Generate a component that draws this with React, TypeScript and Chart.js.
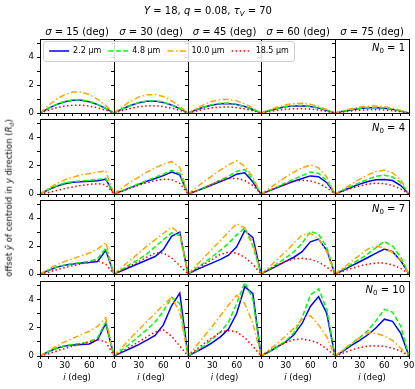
import React, { useEffect, useRef } from "react";
import { Chart, registerables } from "chart.js";

Chart.register(...registerables);

// ---------- data ----------
const inclination = [0, 10, 20, 30, 40, 50, 60, 70, 80, 90];
const sigmaValues = [15, 30, 45, 60, 75];
const n0Values = [1, 4, 7, 10];
const wavelengthLabels = ["2.2 μm", "4.8 μm", "10.0 μm", "18.5 μm"];
const xTickLabels = [0, 30, 60];
const xTickLabelsLast = [0, 30, 60, 90];
const yTickLabels = [0, 2, 4];

// N0 = 1 ; each inner array: sigma = 15, 30, 45, 60, 75
const n1_w22 = [
  [0, 0.33, 0.6, 0.81, 0.92, 0.92, 0.81, 0.6, 0.33, 0],
  [0, 0.29, 0.54, 0.73, 0.84, 0.85, 0.76, 0.57, 0.31, 0],
  [0, 0.23, 0.43, 0.58, 0.67, 0.68, 0.61, 0.46, 0.25, 0],
  [0, 0.17, 0.32, 0.44, 0.51, 0.52, 0.47, 0.35, 0.19, 0],
  [0, 0.13, 0.24, 0.32, 0.37, 0.38, 0.34, 0.26, 0.14, 0],
];
const n1_w48 = [
  [0, 0.34, 0.62, 0.83, 0.94, 0.94, 0.83, 0.62, 0.34, 0],
  [0, 0.3, 0.55, 0.75, 0.86, 0.87, 0.78, 0.58, 0.32, 0],
  [0, 0.24, 0.44, 0.6, 0.69, 0.7, 0.62, 0.47, 0.26, 0],
  [0, 0.18, 0.33, 0.46, 0.53, 0.54, 0.48, 0.36, 0.2, 0],
  [0, 0.13, 0.25, 0.34, 0.39, 0.4, 0.35, 0.27, 0.15, 0],
];
const n1_w100 = [
  [0, 0.53, 0.98, 1.32, 1.5, 1.5, 1.32, 0.98, 0.53, 0],
  [0, 0.45, 0.84, 1.14, 1.3, 1.32, 1.18, 0.88, 0.48, 0],
  [0, 0.33, 0.62, 0.84, 0.96, 0.97, 0.87, 0.65, 0.35, 0],
  [0, 0.23, 0.43, 0.59, 0.68, 0.69, 0.62, 0.46, 0.25, 0],
  [0, 0.17, 0.31, 0.43, 0.49, 0.5, 0.45, 0.34, 0.18, 0],
];
const n1_w185 = [
  [0, 0.2, 0.37, 0.5, 0.56, 0.56, 0.5, 0.37, 0.2, 0],
  [0, 0.17, 0.33, 0.45, 0.51, 0.52, 0.46, 0.35, 0.19, 0],
  [0, 0.14, 0.27, 0.37, 0.42, 0.43, 0.38, 0.29, 0.16, 0],
  [0, 0.1, 0.19, 0.26, 0.3, 0.31, 0.28, 0.21, 0.11, 0],
  [0, 0.08, 0.15, 0.2, 0.23, 0.24, 0.21, 0.16, 0.09, 0],
];

// N0 = 4
const n4_w22 = [
  [0, 0.3, 0.55, 0.73, 0.83, 0.87, 0.9, 0.93, 1.05, 0],
  [0, 0.22, 0.45, 0.68, 0.9, 1.1, 1.3, 1.55, 1.35, 0],
  [0, 0.2, 0.42, 0.65, 0.88, 1.1, 1.4, 1.5, 0.85, 0],
  [0, 0.22, 0.45, 0.68, 0.9, 1.1, 1.28, 1.22, 0.8, 0],
  [0, 0.25, 0.48, 0.7, 0.88, 1.0, 1.02, 0.95, 0.6, 0],
];
const n4_w48 = [
  [0, 0.32, 0.58, 0.77, 0.87, 0.92, 0.97, 1.02, 1.1, 0],
  [0, 0.23, 0.47, 0.72, 0.95, 1.18, 1.4, 1.68, 1.45, 0],
  [0, 0.22, 0.46, 0.72, 0.98, 1.25, 1.6, 1.72, 1.0, 0],
  [0, 0.25, 0.5, 0.78, 1.05, 1.3, 1.55, 1.45, 0.95, 0],
  [0, 0.28, 0.55, 0.8, 1.05, 1.25, 1.33, 1.2, 0.8, 0],
];
const n4_w100 = [
  [0, 0.38, 0.72, 1.0, 1.2, 1.35, 1.45, 1.55, 1.63, 0],
  [0, 0.45, 0.85, 1.2, 1.55, 1.85, 2.1, 2.3, 1.9, 0],
  [0, 0.45, 0.9, 1.3, 1.7, 2.05, 2.35, 1.95, 1.2, 0],
  [0, 0.4, 0.8, 1.2, 1.55, 1.85, 2.05, 1.85, 1.2, 0],
  [0, 0.35, 0.7, 1.05, 1.35, 1.6, 1.68, 1.5, 1.0, 0],
];
const n4_w185 = [
  [0, 0.1, 0.24, 0.38, 0.5, 0.6, 0.68, 0.73, 0.65, 0],
  [0, 0.2, 0.42, 0.62, 0.8, 0.95, 1.05, 1.02, 0.75, 0],
  [0, 0.22, 0.45, 0.7, 0.95, 1.1, 1.1, 0.95, 0.6, 0],
  [0, 0.25, 0.5, 0.72, 0.9, 0.97, 0.92, 0.75, 0.45, 0],
  [0, 0.2, 0.4, 0.57, 0.7, 0.76, 0.73, 0.6, 0.35, 0],
];

// N0 = 7
const n7_w22 = [
  [0, 0.25, 0.48, 0.63, 0.72, 0.78, 0.82, 0.9, 1.7, 0],
  [0, 0.25, 0.5, 0.75, 1.0, 1.25, 1.75, 2.7, 3.0, 0],
  [0, 0.3, 0.55, 0.8, 1.05, 1.35, 1.95, 3.1, 2.6, 0],
  [0, 0.3, 0.6, 0.9, 1.2, 1.6, 2.3, 2.5, 1.7, 0],
  [0, 0.28, 0.58, 0.88, 1.18, 1.5, 1.78, 1.6, 0.95, 0],
];
const n7_w48 = [
  [0, 0.27, 0.5, 0.65, 0.75, 0.82, 0.9, 1.1, 1.85, 0],
  [0, 0.35, 0.7, 1.05, 1.45, 1.95, 2.45, 2.95, 2.75, 0],
  [0, 0.4, 0.8, 1.25, 1.7, 2.2, 2.8, 3.3, 2.0, 0],
  [0, 0.35, 0.75, 1.15, 1.6, 2.2, 3.05, 2.85, 1.9, 0],
  [0, 0.35, 0.7, 1.05, 1.45, 1.9, 2.33, 2.0, 1.2, 0],
];
const n7_w100 = [
  [0, 0.35, 0.65, 0.9, 1.1, 1.3, 1.5, 1.8, 2.25, 0],
  [0, 0.5, 1.0, 1.5, 2.0, 2.45, 2.9, 3.35, 2.9, 0],
  [0, 0.6, 1.2, 1.8, 2.4, 3.0, 3.6, 3.3, 2.2, 0],
  [0, 0.5, 1.05, 1.6, 2.2, 2.8, 2.9, 2.55, 1.6, 0],
  [0, 0.45, 0.9, 1.35, 1.8, 2.0, 1.85, 1.55, 1.0, 0],
];
const n7_w185 = [
  [0, 0.12, 0.3, 0.45, 0.6, 0.72, 0.85, 0.95, 0.7, 0],
  [0, 0.28, 0.58, 0.88, 1.2, 1.5, 1.5, 1.15, 0.6, 0],
  [0, 0.35, 0.7, 1.05, 1.4, 1.57, 1.5, 1.2, 0.7, 0],
  [0, 0.35, 0.65, 0.9, 1.08, 1.12, 1.05, 0.85, 0.5, 0],
  [0, 0.2, 0.4, 0.57, 0.7, 0.78, 0.78, 0.65, 0.4, 0],
];

// N0 = 10
const n10_w22 = [
  [0, 0.3, 0.55, 0.7, 0.78, 0.82, 0.85, 1.15, 2.3, 0],
  [0, 0.27, 0.53, 0.8, 1.12, 1.45, 2.2, 3.55, 4.45, 0],
  [0, 0.3, 0.6, 0.95, 1.35, 1.9, 3.0, 4.9, 4.4, 0],
  [0, 0.3, 0.65, 1.0, 1.5, 2.3, 3.5, 4.2, 3.0, 0],
  [0, 0.35, 0.75, 1.1, 1.5, 2.0, 2.6, 2.45, 1.6, 0],
];
const n10_w48 = [
  [0, 0.3, 0.55, 0.72, 0.82, 0.9, 1.0, 1.3, 2.4, 0],
  [0, 0.45, 0.9, 1.38, 1.86, 2.4, 3.15, 4.15, 3.7, 0],
  [0, 0.35, 0.75, 1.2, 1.7, 2.4, 3.7, 5.2, 4.0, 0],
  [0, 0.3, 0.65, 1.05, 1.65, 2.7, 4.3, 4.75, 3.3, 0],
  [0, 0.4, 0.85, 1.3, 1.8, 2.5, 3.3, 3.1, 2.1, 0],
];
const n10_w100 = [
  [0, 0.35, 0.7, 1.0, 1.25, 1.5, 1.75, 2.1, 2.7, 0],
  [0, 0.62, 1.25, 1.85, 2.45, 3.0, 3.6, 4.15, 3.1, 0],
  [0, 0.7, 1.4, 2.1, 2.85, 3.6, 4.3, 3.7, 2.3, 0],
  [0, 0.45, 0.9, 1.4, 1.95, 2.6, 2.85, 2.2, 1.35, 0],
  [0, 0.45, 0.9, 1.3, 1.65, 1.6, 1.4, 1.1, 0.55, 0],
];
const n10_w185 = [
  [0, 0.15, 0.35, 0.52, 0.7, 0.85, 1.0, 1.15, 1.0, 0],
  [0, 0.32, 0.66, 1.0, 1.35, 1.7, 1.85, 1.4, 0.7, 0],
  [0, 0.45, 0.9, 1.3, 1.7, 1.8, 1.7, 1.3, 0.7, 0],
  [0, 0.35, 0.7, 0.95, 1.15, 1.2, 1.1, 0.9, 0.5, 0],
  [0, 0.2, 0.42, 0.6, 0.7, 0.72, 0.68, 0.55, 0.35, 0],
];

const allRows = [
  [n1_w22, n1_w48, n1_w100, n1_w185],
  [n4_w22, n4_w48, n4_w100, n4_w185],
  [n7_w22, n7_w48, n7_w100, n7_w185],
  [n10_w22, n10_w48, n10_w100, n10_w185],
];

// ---------- styling / layout ----------
const FONT = '"DejaVu Sans", sans-serif';
const lineColors = ["#0000ff", "#00ff00", "#ffa500", "#ff0000"];
const lineDashes: number[][] = [[], [5, 2.5], [6, 2.5, 1.5, 2.5], [1.5, 2.5]];
const colEdges = [40, 114, 188, 261, 335, 409];
const rowTops = [39, 119, 200, 281];
const rowBottoms = [113, 194, 274, 356];
const Y_MAX = 5.3;

const framePlugin = {
  id: "frame",
  afterDatasetsDraw(chart: any) {
    const { ctx, chartArea } = chart;
    const { left, top, right, bottom } = chartArea;
    ctx.save();
    ctx.strokeStyle = "#000";
    ctx.lineWidth = 1;
    ctx.strokeRect(left + 0.5, top + 0.5, right - left, bottom - top);
    ctx.restore();
  },
};

function Panel({ r, c }: { r: number; c: number }) {
  const ref = useRef<HTMLCanvasElement>(null);
  const padL = c === 0 ? 40 : 4;
  const padB = r === 3 ? 16 : 4;
  const padR = c === 4 ? 8 : 1;
  const W = colEdges[c + 1] - colEdges[c];
  const H = rowBottoms[r] - rowTops[r];
  const cw = padL + W + padR;
  const ch = 1 + H + padB;
  useEffect(() => {
    const series = allRows[r];
    const xLabels = c === 4 ? xTickLabelsLast : xTickLabels;
    const chart = new Chart(ref.current as HTMLCanvasElement, {
      type: "line",
      data: {
        datasets: series.map((s, k) => ({
          label: wavelengthLabels[k],
          data: inclination.map((x, i) => ({ x, y: s[c][i] })),
          borderColor: lineColors[k],
          backgroundColor: lineColors[k],
          borderDash: lineDashes[k],
          borderWidth: 1.5,
          pointRadius: 0,
          tension: 0,
          fill: false,
          order: 3 - k,
        })),
      },
      options: {
        animation: false,
        responsive: false,
        devicePixelRatio: 1,
        events: [],
        layout: { padding: { top: 1, right: padR, left: 0, bottom: 0 } },
        plugins: { legend: { display: false }, tooltip: { enabled: false } },
        scales: {
          x: {
            type: "linear",
            min: 0,
            max: 90,
            border: { display: false },
            grid: { drawOnChartArea: false, drawTicks: true, tickLength: 3, color: "#000", lineWidth: 1 },
            ticks: {
              stepSize: 10,
              autoSkip: false,
              maxRotation: 0,
              includeBounds: false,
              padding: 2,
              color: "#000",
              font: { family: FONT, size: 8.5 },
              callback: (v: any) => (r === 3 && xLabels.includes(Number(v)) ? String(v) : ""),
            },
            afterFit: (s: any) => {
              s.height = padB;
              s.paddingLeft = 0;
              s.paddingRight = 0;
            },
          },
          y: {
            min: 0,
            max: Y_MAX,
            border: { display: false },
            grid: { drawOnChartArea: false, drawTicks: true, tickLength: 3, color: "#000", lineWidth: 1 },
            ticks: {
              stepSize: 1,
              autoSkip: false,
              includeBounds: false,
              padding: 3,
              color: "#000",
              font: { family: FONT, size: 8.5 },
              callback: (v: any) => (c === 0 && yTickLabels.includes(Number(v)) ? String(v) : ""),
            },
            afterFit: (s: any) => {
              s.width = padL;
              s.paddingTop = 0;
              s.paddingBottom = 0;
            },
          },
        },
      } as any,
      plugins: [framePlugin],
    });
    return () => chart.destroy();
  }, [r, c]);
  return (
    <canvas
      ref={ref}
      width={cw}
      height={ch}
      style={{ position: "absolute", left: colEdges[c] - padL, top: rowTops[r] - 1, width: cw, height: ch, zIndex: 1 }}
    />
  );
}

function LegendCanvas() {
  const ref = useRef<HTMLCanvasElement>(null);
  useEffect(() => {
    const chart = new Chart(ref.current as HTMLCanvasElement, {
      type: "line",
      data: {
        datasets: wavelengthLabels.map((w, k) => ({
          label: w,
          data: [],
          borderColor: lineColors[k],
          backgroundColor: lineColors[k],
          borderDash: lineDashes[k],
          borderWidth: 1.5,
        })),
      },
      options: {
        animation: false,
        responsive: false,
        devicePixelRatio: 1,
        events: [],
        layout: { padding: 0 },
        scales: { x: { display: false }, y: { display: false } },
        plugins: {
          tooltip: { enabled: false },
          legend: {
            display: true,
            position: "top",
            labels: {
              usePointStyle: true,
              pointStyle: "line",
              pointStyleWidth: 20,
              color: "#000",
              font: { family: FONT, size: 8 },
              padding: 7,
              generateLabels: (ch: any) =>
                ch.data.datasets.map((ds: any, k: number) => ({
                  text: ds.label,
                  fillStyle: ds.borderColor,
                  strokeStyle: ds.borderColor,
                  lineWidth: ds.borderWidth,
                  lineDash: ds.borderDash,
                  lineCap: "butt",
                  pointStyle: "line",
                  fontColor: "#000",
                  hidden: false,
                  datasetIndex: k,
                })),
            },
          },
        },
      } as any,
    });
    return () => chart.destroy();
  }, []);
  return (
    <canvas ref={ref} width={320} height={30} style={{ position: "absolute", left: 9, top: 40, width: 320, height: 30, zIndex: 3 }} />
  );
}

const Txt = ({ x, y, size, children, rotate }: any) => (
  <div
    style={{
      position: "absolute",
      left: x,
      top: y,
      transform: `translate(-50%, -50%)${rotate ? " rotate(-90deg)" : ""}`,
      fontSize: size,
      lineHeight: 1,
      whiteSpace: "nowrap",
      color: "#000",
      zIndex: 4,
    }}
  >
    {children}
  </div>
);

const subStyle: React.CSSProperties = { fontSize: "0.7em", verticalAlign: "-0.3em", lineHeight: 0 };

export default function App() {
  useEffect(() => {
    document.body.style.margin = "0";
  }, []);
  const panels = [];
  for (let r = 0; r < 4; r++) for (let c = 0; c < 5; c++) panels.push(<Panel key={`${r}-${c}`} r={r} c={c} />);
  return (
    <div style={{ position: "relative", width: 415, height: 389, background: "#fff", fontFamily: FONT, overflow: "hidden" }}>
      {panels}
      <Txt x={208} y={11} size={10}>
        <i>Y</i> = 18, <i>q</i> = 0.08, <i>τ</i>
        <sub style={subStyle}>
          <i>V</i>
        </sub>{" "}
        = 70
      </Txt>
      {sigmaValues.map((s, c) => (
        <Txt key={s} x={(colEdges[c] + colEdges[c + 1]) / 2} y={32} size={10}>
          <i>σ</i> = {s} (deg)
        </Txt>
      ))}
      {sigmaValues.map((s, c) => (
        <Txt key={"x" + s} x={(colEdges[c] + colEdges[c + 1]) / 2} y={377} size={8.5}>
          <i>i</i> (deg)
        </Txt>
      ))}
      {n0Values.map((n, r) => (
        <div
          key={n}
          style={{
            position: "absolute",
            right: 10,
            top: rowTops[r] + 8.5,
            transform: "translateY(-50%)",
            fontSize: 10,
            lineHeight: 1,
            whiteSpace: "nowrap",
            zIndex: 4,
          }}
        >
          <i>N</i>
          <sub style={subStyle}>0</sub> = {n}
        </div>
      ))}
      <Txt x={8.5} y={198} size={8.5} rotate>
        offset <i>ȳ</i> of centroid in <i>y</i> direction (<i>R</i>
        <sub style={subStyle}>
          <i>d</i>
        </sub>
        )
      </Txt>
      <div
        style={{
          position: "absolute",
          left: 43,
          top: 41,
          width: 252,
          height: 21,
          boxSizing: "border-box",
          border: "1px solid #d0d0d0",
          borderRadius: 3,
          background: "rgba(255,255,255,0.85)",
          zIndex: 2,
        }}
      />
      <LegendCanvas />
    </div>
  );
}
